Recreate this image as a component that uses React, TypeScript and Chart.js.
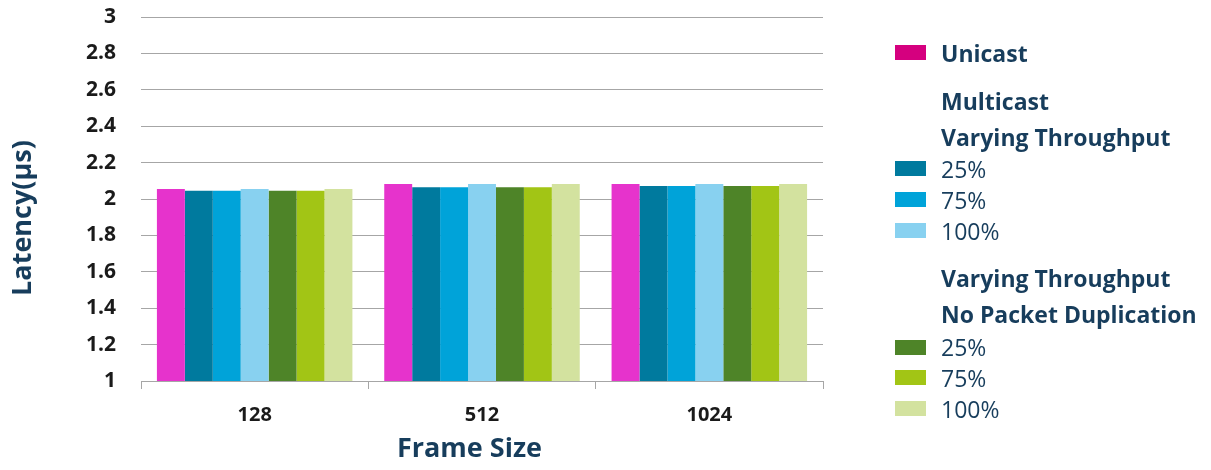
import { useEffect, useRef } from 'react';
import { Chart, registerables } from 'chart.js';

Chart.register(...registerables);

const categories = ['128', '512', '1024'];
const unicast = [2.055, 2.082, 2.082];
const multicast25 = [2.045, 2.064, 2.071];
const multicast75 = [2.045, 2.064, 2.071];
const multicast100 = [2.055, 2.082, 2.082];
const noDup25 = [2.045, 2.064, 2.071];
const noDup75 = [2.045, 2.064, 2.071];
const noDup100 = [2.055, 2.082, 2.082];

const seriesLabels = [
  'Unicast',
  'Multicast 25%',
  'Multicast 75%',
  'Multicast 100%',
  'No Packet Duplication 25%',
  'No Packet Duplication 75%',
  'No Packet Duplication 100%',
];
const legendTexts = ['Unicast', '25%', '75%', '100%', '25%', '75%', '100%'];
const multicastHeading = ['Multicast', 'Varying Throughput'];
const noDupHeading = ['Varying Throughput', 'No Packet Duplication'];
const yTickValues = [1, 1.2, 1.4, 1.6, 1.8, 2, 2.2, 2.4, 2.6, 2.8, 3];
const xTitle = 'Frame Size';
const yTitle = 'Latency(\u00b5s)';

const barColors = ['#E633CC', '#007A9E', '#00A3D9', '#88D1F0', '#4E8428', '#A2C515', '#D3E29F'];
const legendColors = ['#D5007F', '#007A9E', '#00A3D9', '#88D1F0', '#4E8428', '#A2C515', '#D3E29F'];

const seriesValues = [unicast, multicast25, multicast75, multicast100, noDup25, noDup75, noDup100];

const NAVY = '#173D5C';
const FONT = '"Open Sans", "DejaVu Sans", sans-serif';

const legendPlugin = {
  id: 'customLegendAndTitles',
  afterDraw(chart: any) {
    const ctx = chart.ctx as CanvasRenderingContext2D;
    const area = chart.chartArea;
    ctx.save();
    // axis titles
    ctx.fillStyle = NAVY;
    ctx.font = `bold 27px ${FONT}`;
    ctx.textAlign = 'center';
    ctx.textBaseline = 'alphabetic';
    ctx.fillText(xTitle, 469.5, 457);
    ctx.save();
    ctx.translate(31, 218);
    ctx.rotate(-Math.PI / 2);
    ctx.font = `bold 27px ${FONT}`;
    ctx.fillText(yTitle, 0, 0);
    ctx.restore();

    // legend
    const swX = area.right + 72;
    const txX = area.right + 118;
    const capHalf = 23 * 0.357;
    type Row = { kind: 'series'; i: number; y: number } | { kind: 'heading'; text: string; y: number };
    const rows: Row[] = [
      { kind: 'series', i: 0, y: 53.7 },
      { kind: 'heading', text: multicastHeading[0], y: 101.7 },
      { kind: 'heading', text: multicastHeading[1], y: 137.5 },
      { kind: 'series', i: 1, y: 169.5 },
      { kind: 'series', i: 2, y: 200.5 },
      { kind: 'series', i: 3, y: 231.8 },
      { kind: 'heading', text: noDupHeading[0], y: 278.7 },
      { kind: 'heading', text: noDupHeading[1], y: 314.7 },
      { kind: 'series', i: 4, y: 348 },
      { kind: 'series', i: 5, y: 378.6 },
      { kind: 'series', i: 6, y: 409.8 },
    ];
    ctx.textAlign = 'left';
    for (const r of rows) {
      if (r.kind === 'series') {
        ctx.fillStyle = legendColors[r.i];
        ctx.fillRect(swX, Math.round(r.y - 1 - 7.5), 31, 15);
        ctx.fillStyle = NAVY;
        ctx.font = r.i === 0 ? `bold 23px ${FONT}` : `23px ${FONT}`;
        ctx.fillText(legendTexts[r.i], txX, r.y + capHalf);
      } else {
        ctx.fillStyle = NAVY;
        ctx.font = `bold 23px ${FONT}`;
        ctx.fillText(r.text, txX, r.y + capHalf);
      }
    }
    ctx.restore();
  },
};

export default function App() {
  const canvasRef = useRef<HTMLCanvasElement | null>(null);

  useEffect(() => {
    if (!canvasRef.current) return;
    const chart = new Chart(canvasRef.current, {
      type: 'bar',
      data: {
        labels: categories,
        datasets: seriesValues.map((vals, i) => ({
          label: seriesLabels[i],
          data: vals,
          backgroundColor: barColors[i],
          borderWidth: 0,
          categoryPercentage: 0.86,
          barPercentage: 1.0,
        })),
      },
      options: {
        animation: false,
        responsive: false,
        devicePixelRatio: 1,
        layout: { padding: { top: 17, right: 388, left: 0, bottom: 0 } },
        plugins: {
          legend: { display: false },
          tooltip: { enabled: false },
          title: { display: false },
        },
        scales: {
          x: {
            offset: true,
            grid: {
              offset: true,
              drawOnChartArea: false,
              drawTicks: true,
              tickLength: 8,
              color: '#A6A6A6',
              lineWidth: 1,
            },
            border: { display: true, color: '#A6A6A6', width: 1 },
            ticks: {
              color: '#1A1A1A',
              font: { family: FONT, size: 20, weight: 'bold' },
              padding: 14,
              maxRotation: 0,
            },
            afterFit(scale: any) {
              scale.height = 89;
            },
          },
          y: {
            min: 1,
            max: 3,
            grid: {
              color: '#A6A6A6',
              lineWidth: 1,
              drawTicks: true,
              tickLength: 25,
              tickColor: 'rgba(0,0,0,0)',
            },
            border: { display: false },
            ticks: {
              color: '#1A1A1A',
              font: { family: FONT, size: 21, weight: 'bold' },
              padding: 0,
              callback: (v: any) => String(Number(Number(v).toFixed(1))),
            },
            afterBuildTicks(scale: any) {
              scale.ticks = yTickValues.map((v) => ({ value: v }));
            },
            afterFit(scale: any) {
              scale.width = 141;
            },
          },
        },
      },
      plugins: [legendPlugin],
    });
    return () => chart.destroy();
  }, []);

  return (
    <div style={{ position: 'absolute', left: 0, top: 0, width: 1211, height: 470, background: '#fff' }}>
      <canvas ref={canvasRef} width={1211} height={470} />
    </div>
  );
}
